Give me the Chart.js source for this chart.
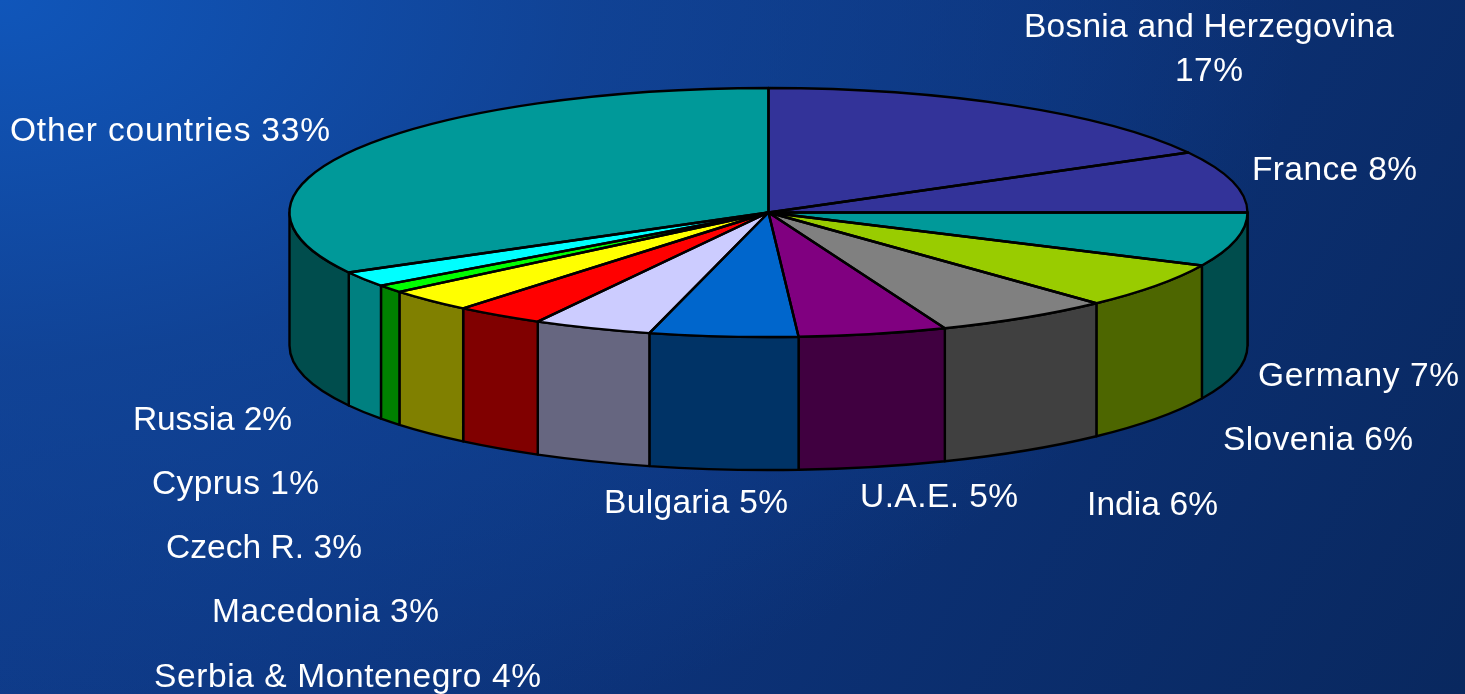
<!DOCTYPE html>
<html>
<head>
<meta charset="utf-8">
<style>
html,body{margin:0;padding:0;width:1465px;height:694px;overflow:hidden;
background:
 radial-gradient(ellipse 1300px 800px at 0px 0px, rgba(16,86,186,1) 0%, rgba(17,70,155,.75) 45%, rgba(14,52,125,0) 100%),
 linear-gradient(120deg,#0f3d8e 0%,#0c3278 55%,#09285f 100%);}
canvas{display:block}
</style>
<script src="https://cdn.jsdelivr.net/npm/chart.js@4/dist/chart.umd.min.js"></script>
</head>
<body>
<canvas id="c" width="1465" height="694"></canvas>
<script>
const countries = ["Bosnia and Herzegovina","France","Germany","Slovenia","India","U.A.E.","Bulgaria","Serbia & Montenegro","Macedonia","Czech R.","Cyprus","Russia","Other countries"];
const shares = [17,8,7,6,6,5,5,4,3,3,1,2,33];
const topColors = ["#333399","#333399","#009999","#99CC00","#808080","#800080","#0066CC","#CCCCFF","#FF0000","#FFFF00","#00FF00","#00FFFF","#009999"];
const wallColors = ["#1a1a4d","#1a1a4d","#004D4D","#4D6600","#404040","#400040","#003366","#666680","#800000","#808000","#008000","#008080","#004D4D"];
// label anchors: left x, baseline y, rendered width (Bosnia is centred on two lines)
const labelX = [1209,1252,1258,1223,1087,860,604,154,212,166,152,133,10];
const labelY = [37,180,386,450,515,507,513,687,622,558,494,430,141];
const labelW = [370,165,201,190,131,158,184,387,227,196,167,159,320];

const RX = 479, RY = 124.5, DEPTH = 133;

const pie3d = {
  id:'pie3d',
  beforeDatasetsDraw(chart){
    const ctx = chart.ctx, arcs = chart.getDatasetMeta(0).data;
    ctx.save();
    ctx.strokeStyle = '#000'; ctx.lineWidth = 2.4; ctx.lineJoin='round';
    arcs.forEach((a,i)=>{
      const s = Math.max(a.startAngle,0), e = Math.min(a.endAngle,Math.PI);
      if (e <= s) return;
      ctx.beginPath();
      ctx.ellipse(a.x,a.y,RX,RY,0,s,e);
      ctx.ellipse(a.x,a.y+DEPTH,RX,RY,0,e,s,true);
      ctx.closePath();
      ctx.fillStyle = wallColors[i];
      ctx.fill(); ctx.stroke();
    });
    ctx.restore();
    const a0 = arcs[0], k = a0.outerRadius;
    ctx.save();
    ctx.translate(a0.x,a0.y); ctx.scale(RX/k,RY/k); ctx.translate(-a0.x,-a0.y);
  },
  afterDatasetsDraw(chart){
    const ctx = chart.ctx, arcs = chart.getDatasetMeta(0).data;
    ctx.restore();
    ctx.save();
    ctx.strokeStyle='#000'; ctx.lineWidth=2.4; ctx.lineJoin='round';
    arcs.forEach(a=>{
      ctx.beginPath();
      ctx.moveTo(a.x,a.y);
      ctx.ellipse(a.x,a.y,RX,RY,0,a.startAngle,a.endAngle);
      ctx.closePath();
      ctx.stroke();
    });
    ctx.fillStyle='#fff';
    ctx.font='33.5px "Liberation Sans", Arial, sans-serif';
    ctx.textBaseline='alphabetic';
    const fit = (t,w)=>{
      ctx.letterSpacing='0px';
      const m = ctx.measureText(t).width;
      ctx.letterSpacing = ((w-m)/(t.length-1)).toFixed(3)+'px';
    };
    countries.forEach((n,i)=>{
      ctx.textAlign='left';
      if(i===0){
        fit(n,labelW[i]);
        ctx.fillText(n,labelX[i]-labelW[i]/2,labelY[i]);
        const p = shares[i]+'%';
        fit(p,68);
        ctx.fillText(p,labelX[i]-34,labelY[i]+44);
      } else {
        const t = n+' '+shares[i]+'%';
        fit(t,labelW[i]);
        ctx.fillText(t,labelX[i],labelY[i]);
      }
    });
    ctx.restore();
  }
};

new Chart(document.getElementById('c'),{
  type:'pie',
  data:{labels:countries,datasets:[{data:shares,backgroundColor:topColors,borderWidth:0,clip:false}]},
  options:{
    responsive:false,animation:false,
    layout:{padding:{left:72,bottom:269}},
    plugins:{legend:{display:false},tooltip:{enabled:false}}
  },
  plugins:[pie3d]
});
</script>
</body>
</html>
